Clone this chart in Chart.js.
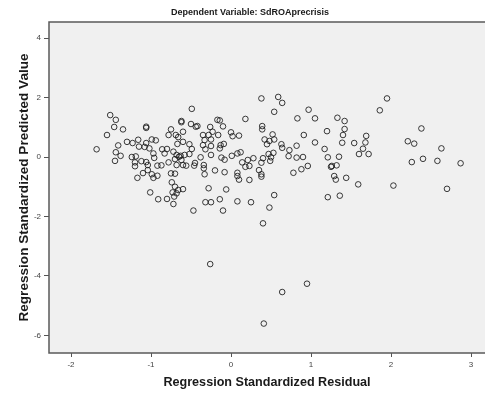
<!DOCTYPE html>
<html>
<head>
<meta charset="utf-8">
<script src="https://cdn.jsdelivr.net/npm/chart.js@4.4.1/dist/chart.umd.min.js"></script>
<style>
    body { margin: 0; background: #ffffff; }
    #wrap { width: 485px; height: 395px; }
</style>
</head>
<body>
<div id="wrap"><canvas id="residChart" width="485" height="395"></canvas></div>
<script>
const chartTitle = 'Dependent Variable: SdROAprecrisis';
const xTitle = 'Regression Standardized Residual';
const yTitle = 'Regression Standardized Predicted Value';

const xTicks = [-2, -1, 0, 1, 2, 3];
const yTicks = [-6, -4, -2, 0, 2, 4];

// standardized residual for each case
const residual = [
    -1.51, -1.44, -1.46, -1.35, -1.55, -1.68, -1.41, -1.44, -1.38, -1.45,
    -1.06, -1.06, -1.30, -1.23, -1.16, -1.15, -1.08, -1.06, -1.02, -0.99,
    -0.94, -0.97, -0.96, -1.24, -1.19, -1.20, -1.20, -1.12, -1.06, -1.04,
    -1.04, -1.10, -1.17, -0.99, -0.97, -0.92, -0.92, -0.87, -0.86, -1.01,
    -0.91, -0.49, -0.62, -0.62, -0.50, -0.44, -0.42, -0.75, -0.78, -0.69,
    -0.60, -0.66, -0.17, -0.14, -0.26, -0.10, -0.23, -0.35, -0.28, -0.16,
    0.00, 0.02, 0.10, -0.33, -0.25, -0.35, -0.25, -0.13, -0.09, -0.14,
    -0.32, -0.25, -0.12, -0.08, 0.01, 0.08, -0.38, -0.45, -0.46, -0.34,
    -0.34, -0.33, -0.20, -0.08, 0.08, 0.08, -0.28, -0.06, -0.14, -0.32,
    -0.25, 0.08, -0.47, -0.10, -0.80, -0.83, -0.72, -0.68, -0.65, -0.70,
    -0.63, -0.58, -0.62, -0.68, -0.60, -0.56, -0.67, -0.60, -0.52, -0.49,
    -0.52, -0.78, -0.75, -0.70, -0.74, -0.70, -0.73, -0.68, -0.66, -0.60,
    -0.71, -0.80, -0.72, 0.38, 0.59, 0.64, 0.54, 0.18, 0.97, 0.83,
    1.05, 0.39, 0.39, 0.91, 0.52, 0.42, 0.48, 0.54, 0.45, 1.05,
    0.82, 0.63, 0.64, 0.73, 0.72, 0.82, 0.90, 0.96, 0.88, 0.78,
    0.53, 0.47, 0.50, 0.40, 0.49, 0.38, 0.28, 0.21, 0.14, 0.18,
    0.23, 0.12, 0.10, 0.35, 0.38, 0.38, 0.23, 0.54, 0.25, 0.48,
    1.95, 1.86, 1.33, 1.42, 1.42, 1.20, 1.40, 1.39, 1.54, 1.69,
    1.68, 1.65, 1.60, 1.72, 1.17, 1.21, 1.35, 1.25, 1.26, 1.32,
    1.29, 1.31, 1.44, 1.59, 2.03, 1.21, 1.36, 2.38, 2.21, 2.29,
    2.63, 2.26, 2.40, 2.58, 2.87, 2.70, 0.40, -0.26, 0.95, 0.64,
    0.41
];

// standardized predicted value for each case
const predicted = [
    1.41, 1.25, 1.01, 0.93, 0.74, 0.26, 0.39, 0.16, 0.04, -0.13,
    0.98, 1.02, 0.51, 0.47, 0.58, 0.35, 0.34, 0.47, 0.29, 0.59,
    0.56, 0.12, -0.03, 0.00, 0.02, -0.18, -0.31, -0.14, -0.17, -0.27,
    -0.44, -0.54, -0.70, -0.58, -0.70, -0.63, -0.29, -0.28, 0.26, -1.19,
    -1.42, 1.62, 1.21, 1.17, 1.11, 1.02, 1.04, 0.93, 0.74, 0.74,
    0.85, 0.67, 1.25, 1.23, 1.01, 1.03, 0.85, 0.74, 0.74, 0.74,
    0.83, 0.70, 0.72, 0.57, 0.59, 0.40, 0.37, 0.40, 0.44, 0.29,
    0.26, 0.07, -0.02, -0.09, 0.04, 0.12, -0.01, -0.20, -0.29, -0.27,
    -0.38, -0.58, -0.45, -0.51, -0.53, -0.64, -1.05, -1.09, -1.42, -1.52,
    -1.52, -1.49, -1.80, -1.80, 0.27, 0.12, 0.18, 0.07, 0.01, -0.07,
    0.04, 0.07, -0.10, -0.27, -0.27, -0.29, 0.44, 0.51, 0.43, 0.27,
    0.10, -0.18, -0.55, -0.56, -0.85, -1.00, -1.19, -1.22, -1.11, -1.08,
    -1.33, -1.41, -1.58, 1.97, 2.02, 1.82, 1.52, 1.28, 1.59, 1.30,
    1.30, 1.04, 0.93, 0.74, 0.76, 0.59, 0.54, 0.59, 0.43, 0.49,
    0.38, 0.43, 0.31, 0.23, 0.03, -0.02, 0.00, -0.30, -0.41, -0.53,
    0.14, 0.10, -0.01, -0.04, -0.13, -0.19, -0.04, -0.10, -0.18, -0.33,
    -0.30, 0.16, -0.76, -0.44, -0.58, -0.66, -0.77, -1.28, -1.52, -1.70,
    1.97, 1.57, 1.32, 1.21, 0.94, 0.87, 0.74, 0.48, 0.47, 0.71,
    0.49, 0.28, 0.10, 0.10, 0.27, -0.01, 0.01, -0.33, -0.30, -0.28,
    -0.64, -0.76, -0.70, -0.92, -0.96, -1.35, -1.30, 0.96, 0.53, 0.45,
    0.29, -0.17, -0.06, -0.13, -0.21, -1.07, -2.23, -3.60, -4.26, -4.54,
    -5.60
];

let points = [];
for (let i = 0; i < residual.length; i++) {
    points.push({x: residual[i], y: predicted[i]});
}

// grey plot panel with a dark frame, plus the heading line
const panelPlugin = {
    id: 'panel',
    beforeDraw: function(chart) {
        const a = chart.chartArea;
        const ctx = chart.ctx;
        ctx.save();
        ctx.fillStyle = '#f0f0f0';
        ctx.fillRect(a.left, a.top, a.right - a.left, a.bottom - a.top);
        ctx.restore();
    },
    afterDraw: function(chart) {
        const a = chart.chartArea;
        const ctx = chart.ctx;
        ctx.save();
        ctx.strokeStyle = '#5a5a5a';
        ctx.lineWidth = 1.5;
        ctx.strokeRect(a.left, a.top, a.right - a.left + 4, a.bottom - a.top);
        ctx.fillStyle = '#1a1a1a';
        ctx.font = 'bold 9px "Liberation Sans", Arial, sans-serif';
        ctx.textAlign = 'center';
        ctx.textBaseline = 'middle';
        ctx.fillText(chartTitle, 250, 13);
        ctx.restore();
    }
};

const tickFont = {family: '"Liberation Sans", Arial, sans-serif', size: 8};

const ctx = document.getElementById('residChart');
const myChart = new Chart(ctx, {
    type: 'scatter',
    data: {
        datasets: [{
            data: points,
            pointRadius: 2.8,
            pointHoverRadius: 2.8,
            pointBorderWidth: 1,
            pointBorderColor: 'rgba(25, 25, 25, 0.85)',
            pointBackgroundColor: 'rgba(0, 0, 0, 0)'
        }]
    },
    plugins: [panelPlugin],
    options: {
        responsive: false,
        animation: false,
        layout: {
            autoPadding: false,
            padding: {top: 22, right: 0, bottom: 0, left: 0}
        },
        plugins: {
            legend: {display: false},
            tooltip: {enabled: false},
            title: {display: false}
        },
        scales: {
            x: {
                type: 'linear',
                min: -2.275,
                max: 3.175,
                afterBuildTicks: function(scale) {
                    scale.ticks = xTicks.map(function(v) { return {value: v}; });
                },
                afterFit: function(scale) {
                    scale.height = 42;
                    scale.paddingLeft = 0;
                    scale.paddingRight = 0;
                },
                grid: {
                    drawOnChartArea: false,
                    drawTicks: true,
                    tickLength: 4,
                    tickColor: '#555555',
                    lineWidth: 1
                },
                border: {display: false},
                ticks: {
                    font: tickFont,
                    color: '#444444',
                    padding: 3,
                    maxRotation: 0
                },
                title: {
                    display: true,
                    text: xTitle,
                    font: {family: '"Liberation Sans", Arial, sans-serif', size: 12.6, weight: 'bold'},
                    color: '#1a1a1a',
                    padding: {top: 0, bottom: 5}
                }
            },
            y: {
                type: 'linear',
                min: -6.59,
                max: 4.54,
                afterBuildTicks: function(scale) {
                    scale.ticks = yTicks.map(function(v) { return {value: v}; });
                },
                afterFit: function(scale) {
                    scale.width = 49;
                    scale.paddingTop = 0;
                    scale.paddingBottom = 0;
                },
                grid: {
                    drawOnChartArea: false,
                    drawTicks: true,
                    tickLength: 5,
                    tickColor: '#555555',
                    lineWidth: 1
                },
                border: {display: false},
                ticks: {
                    font: tickFont,
                    color: '#444444',
                    padding: 3
                },
                title: {
                    display: true,
                    text: yTitle,
                    font: {family: '"Liberation Sans", Arial, sans-serif', size: 13.6, weight: 'bold'},
                    color: '#1a1a1a',
                    padding: {top: 16, bottom: 0}
                }
            }
        }
    }
});
</script>
</body>
</html>
